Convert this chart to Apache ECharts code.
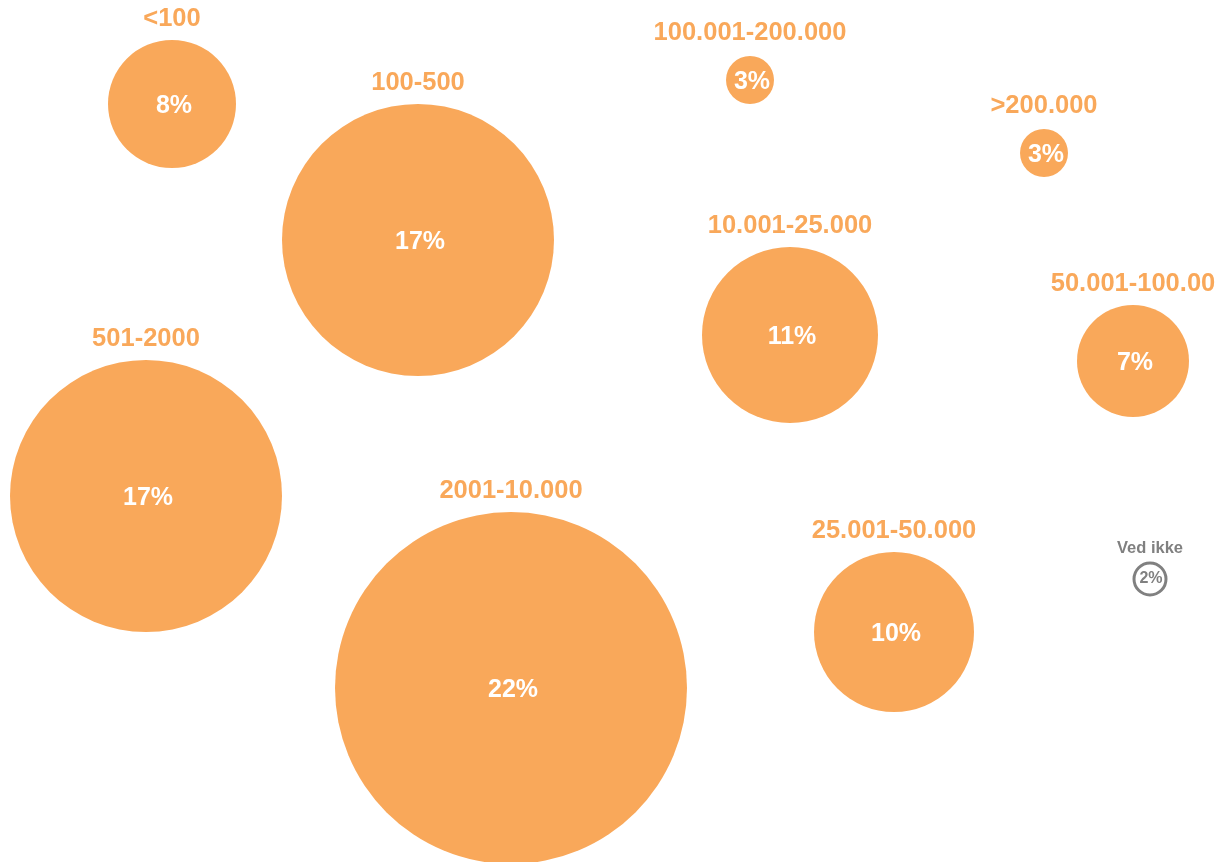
<!DOCTYPE html>
<html><head><meta charset="utf-8">
<script src="https://cdn.jsdelivr.net/npm/echarts@6/dist/echarts.min.js"></script>
<style>html,body{margin:0;padding:0;background:#fff}#c{width:1228px;height:862px}</style>
</head><body><div id="c"></div>
<script>
const categories = ['<100','100-500','501-2000','2001-10.000','10.001-25.000','25.001-50.000','50.001-100.00','100.001-200.000','>200.000','Ved ikke'];
const values = [8,17,17,22,11,10,7,3,3,2];
const posX = [172,418,146,511,790,894,1133,750,1044,1150];
const posY = [104,240,496,688,335,632,361,80,153,579];
const ORANGE = '#F9A85A', GREY = '#808080';
const font = '"Liberation Sans", Arial, Helvetica, sans-serif';
const pts = categories.map((c,i)=>({
  value:[posX[i],posY[i],values[i]], name:c,
  grey: c==='Ved ikke'
}));
const chart = echarts.init(document.getElementById('c'));
chart.setOption({
  animation:false,
  grid:{left:0,right:0,top:0,bottom:0},
  xAxis:{type:'value',min:0,max:1228,show:false},
  yAxis:{type:'value',min:0,max:862,inverse:true,show:false},
  series:[
    {
      type:'scatter',
      symbolSize:d=>d[2]*16,
      itemStyle:{opacity:1},
      data:pts.map(p=>({
        value:p.value,name:p.name,
        itemStyle:p.grey?{color:'#fff',borderColor:GREY,borderWidth:3,opacity:1}:{color:ORANGE,opacity:1},
        label:{show:true,position:'inside',formatter:'{@[2]}%',
          color:p.grey?GREY:'#fff',fontWeight:'bold',fontFamily:font,
          offset:p.grey?[1,0]:[2,2],
          fontSize:p.grey?16:25}
      }))
    },
    {
      type:'scatter',
      symbolSize:d=>d[2]*16,
      itemStyle:{color:'rgba(0,0,0,0)',opacity:1},
      silent:true,
      data:pts.map(p=>({
        value:p.value,name:p.name,
        label:{show:true,position:'top',formatter:'{b}',
          distance:p.grey?6:(p.value[2]<=3?10:8),
          color:p.grey?GREY:ORANGE,fontWeight:'bold',fontFamily:font,
          fontSize:p.grey?16.5:25.5}
      }))
    }
  ]
});
</script></body></html>
